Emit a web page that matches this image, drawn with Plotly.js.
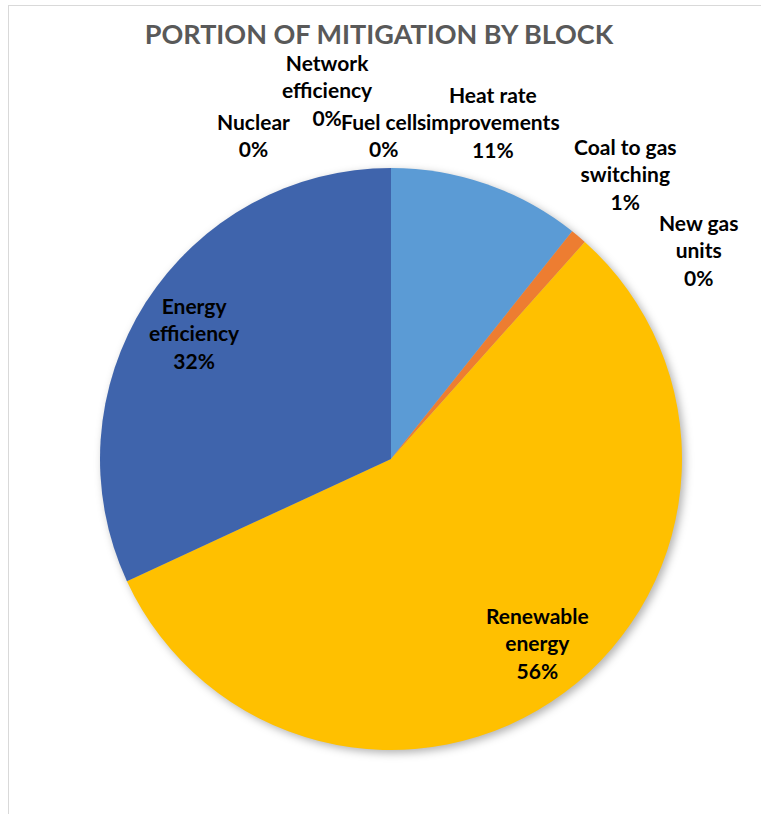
<!DOCTYPE html>
<html>
<head>
<meta charset="utf-8">
<script src="https://cdn.plot.ly/plotly-3.0.1.min.js"></script>
<style>
  html, body { margin: 0; padding: 0; background: #ffffff; }
  #wrap { position: relative; width: 761px; height: 814px; overflow: hidden; }
  #frame { position: absolute; left: 8px; top: 5px; width: 900px; height: 900px;
           border: 1.5px solid #d9d9d9; box-sizing: border-box; }
  #chart { position: absolute; left: 0; top: 0; width: 761px; height: 814px; }
  #chart .pielayer .trace { filter: drop-shadow(3px 3px 4px rgba(0,0,0,0.30)); }
</style>
</head>
<body>
<div id="wrap">
  <div id="frame"></div>
  <div id="chart"></div>
</div>
<script>
// ---- data ----
const categories = ["Heat rate improvements", "Coal to gas switching", "New gas units",
                    "Renewable energy", "Energy efficiency", "Nuclear",
                    "Network efficiency", "Fuel cells"];
const labelLines = ["Heat rate<br>improvements", "Coal to gas<br>switching", "New gas<br>units",
                    "Renewable<br>energy", "Energy<br>efficiency", "Nuclear",
                    "Network<br>efficiency", "Fuel cells"];
const values = [10.7, 0.9, 0, 56.5, 31.9, 0, 0, 0];
const colors = ["#5B9BD5", "#ED7D31", "#A5A5A5", "#FFC000", "#3F64AC",
                "#70AD47", "#264478", "#9E480E"];
const chartTitle = "PORTION OF MITIGATION BY BLOCK";

// ---- layout (label positions in px) ----
const W = 761, H = 814;
const M = { l: 100, r: 79, t: 168, b: 64 };
const labelPos = [[493, 122], [625, 174], [698, 250], [537, 643],
                  [194, 333], [253, 135], [327, 90], [383, 135]];
const pw = W - M.l - M.r, ph = H - M.t - M.b;
const total = values.reduce((a, b) => a + b, 0);

const annotations = categories.map((c, i) => ({
  xref: "paper", yref: "paper",
  x: (labelPos[i][0] - M.l) / pw,
  y: 1 - (labelPos[i][1] - M.t) / ph,
  xanchor: "center", yanchor: "middle",
  showarrow: false,
  borderpad: 0,
  text: "<b>" + labelLines[i] + "<br>" + Math.round(values[i] / total * 100) + "%</b>",
  font: { family: "Lato, 'Open Sans', sans-serif", size: 21, color: "#000000" },
  align: "center"
}));

const trace = {
  type: "pie",
  labels: categories,
  values: values,
  marker: { colors: colors, line: { width: 0 } },
  sort: false,
  direction: "clockwise",
  rotation: 0,
  textinfo: "none",
  hoverinfo: "label+percent",
  showlegend: false
};

const layout = {
  width: W, height: H,
  margin: M,
  paper_bgcolor: "rgba(0,0,0,0)",
  plot_bgcolor: "rgba(0,0,0,0)",
  showlegend: false,
  title: {
    text: "<b>" + chartTitle + "</b>",
    xref: "container", yref: "container",
    x: 379 / W, y: 1 - 35 / H,
    xanchor: "center", yanchor: "middle",
    font: { family: "Lato, 'Open Sans', sans-serif", size: 27, color: "#595959" }
  },
  annotations: annotations
};

Plotly.newPlot("chart", [trace], layout, { displayModeBar: false, staticPlot: true });
</script>
</body>
</html>
